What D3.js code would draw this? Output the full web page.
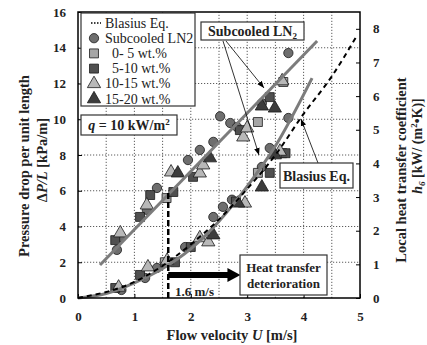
<!DOCTYPE html>
<html>
<head>
<meta charset="utf-8">
<script src="https://cdn.jsdelivr.net/npm/d3@7"></script>
<style>
  body { margin: 0; background: #fff; }
  text { font-family: "Liberation Serif", "Times New Roman", serif; }
</style>
</head>
<body>
<script>

// axis ticks
var xTicks = [0, 1, 2, 3, 4, 5];
var xGrid = [0.5, 1, 1.5, 2, 2.5, 3, 3.5, 4, 4.5];
var yLeftTicks = [0, 2, 4, 6, 8, 10, 12, 14, 16];
var yGrid = [2, 4, 6, 8, 10, 12, 14];
var yRightTicks = [0, 1, 2, 3, 4, 5, 6, 7, 8];

// legend
var seriesNames = ["Subcooled LN2", "0- 5 wt.%", "5-10 wt.%", "10-15 wt.%", "15-20 wt.%"];

// local heat transfer coefficient h [kW/(m2 K)] vs U [m/s]  (right axis)
var hLN2  = [[0.69,1.43],[0.77,1.81],[1.22,2.62],[1.40,3.27],[1.95,4.10],[2.16,4.40],[2.40,4.64],
             [2.52,5.40],[2.70,5.20],[2.82,5.08],[3.26,5.79],[3.73,7.28]];
var h0_5   = [[1.57,2.97],[3.19,5.23],[3.64,6.42]];
var h5_10  = [[0.66,1.72],[1.10,2.41],[1.28,3.06],[1.69,3.15],[2.04,3.60],[2.87,4.99],[3.40,5.97]];
var h10_15 = [[0.75,1.93],[1.22,2.76],[1.65,3.74],[2.16,3.71],[2.22,3.95],[2.93,4.78],[3.00,5.05],[3.62,6.45]];
var h15_20 = [[1.77,3.71],[2.34,4.16],[3.26,5.70],[3.49,5.64]];

// pressure drop dP/L [kPa/m] vs U [m/s]  (left axis)
var dpLN2  = [[0.77,0.45],[1.19,1.12],[1.40,1.68],[1.90,2.85],[2.40,4.53],[2.57,5.10],[2.73,5.50],
              [3.26,7.33],[3.40,8.39],[3.73,10.07]];
var dp0_5   = [[1.54,2.00],[3.19,7.00],[3.62,8.10]];
var dp5_10  = [[0.66,0.56],[1.10,1.29],[1.72,2.00],[2.00,2.85],[2.80,5.40],[3.40,7.00],[3.68,8.10]];
var dp10_15 = [[0.72,0.60],[1.24,1.73],[1.58,2.10],[2.16,3.36],[2.31,3.13],[2.96,5.30],[3.58,8.20]];
var dp15_20 = [[2.40,3.52],[2.84,5.30],[3.26,6.20],[3.49,8.00]];

// fitted curves and Blasius equation
var hFit = [[0.39,0.98],[4.24,7.64]];
var dpFit = [[0,0],[0.5,0.25],[1.0,0.85],[1.5,1.65],[2.0,2.75],[2.5,4.3],[3.0,6.25],[3.5,8.5],[4.15,12.3]];
var blasius = [[0,0],[1,0.9],[1.5,1.8],[2,3.0],[2.5,4.4],[3,6.1],[3.5,8.0],[4,10.3],[4.5,12.4],[4.95,14.7]];

var width = 427,
    height = 345;

var svg = d3.select("body").append("svg")
    .attr("width", width)
    .attr("height", height);

var x = d3.scaleLinear().domain([0, 5]).range([78, 360]);
var yL = d3.scaleLinear().domain([0, 16]).range([298, 12]);
var yR = d3.scaleLinear().domain([0, 8.5]).range([298, 12]);

var defs = svg.append("defs");
defs.append("marker")
    .attr("id", "thin")
    .attr("viewBox", "0 0 10 10")
    .attr("refX", 10).attr("refY", 5)
    .attr("markerWidth", 7).attr("markerHeight", 7)
    .attr("markerUnits", "userSpaceOnUse")
    .attr("orient", "auto")
    .append("path").attr("d", "M0,1L10,5L0,9Z").attr("fill", "#000");

// grid
svg.append("g").selectAll("line").data(xGrid).enter().append("line")
    .attr("x1", function(d) { return x(d); }).attr("x2", function(d) { return x(d); })
    .attr("y1", yL(0)).attr("y2", yL(16))
    .attr("stroke", "#333").attr("stroke-width", 0.8).attr("stroke-dasharray", "1.2,1.8");
svg.append("g").selectAll("line").data(yGrid).enter().append("line")
    .attr("x1", x(0)).attr("x2", x(5))
    .attr("y1", function(d) { return yL(d); }).attr("y2", function(d) { return yL(d); })
    .attr("stroke", "#333").attr("stroke-width", 0.8).attr("stroke-dasharray", "1.2,1.8");

function styleAxis(g) {
    g.select(".domain").remove();
    g.selectAll("line").attr("stroke", "#000").attr("stroke-width", 1);
    g.selectAll("text")
        .attr("font-family", "Liberation Serif, Times New Roman, serif")
        .attr("font-size", 13)
        .attr("font-weight", "bold")
        .attr("fill", "#222");
}

var fmt = d3.format("d");

svg.append("g").attr("transform", "translate(0," + yL(0) + ")")
    .call(d3.axisBottom(x).tickValues(xTicks).tickFormat(fmt).tickSizeInner(-4).tickSizeOuter(0).tickPadding(14))
    .call(styleAxis);
svg.append("g").attr("transform", "translate(" + x(0) + ",0)")
    .call(d3.axisLeft(yL).tickValues(yLeftTicks).tickFormat(fmt).tickSizeInner(-4).tickSizeOuter(0).tickPadding(12))
    .call(styleAxis);
svg.append("g").attr("transform", "translate(" + x(5) + ",0)")
    .call(d3.axisRight(yR).tickValues(yRightTicks).tickFormat(fmt).tickSizeInner(-4).tickSizeOuter(0).tickPadding(13))
    .call(styleAxis);

// data points
var shapes = [d3.symbolCircle, d3.symbolSquare, d3.symbolSquare, d3.symbolTriangle, d3.symbolTriangle];
var sizes = [68, 80, 80, 76, 76];
var fills = ["#6e6e6e", "#a6a6a6", "#505050", "#b8b8b8", "#3c3c3c"];
var hSets = [hLN2, h0_5, h5_10, h10_15, h15_20];
var dpSets = [dpLN2, dp0_5, dp5_10, dp10_15, dp15_20];

var series = seriesNames.map(function(name, i) {
    return { name: name, shape: shapes[i], size: sizes[i], fill: fills[i], h: hSets[i], dp: dpSets[i] };
});

var pts = svg.append("g");
series.forEach(function(s) {
    var sym = d3.symbol().type(s.shape).size(s.size);
    pts.selectAll(null).data(s.h).enter().append("path")
        .attr("d", sym)
        .attr("transform", function(d) { return "translate(" + x(d[0]) + "," + yR(d[1]) + ")"; })
        .attr("fill", s.fill).attr("stroke", "#1a1a1a").attr("stroke-width", 0.8);
    pts.selectAll(null).data(s.dp).enter().append("path")
        .attr("d", sym)
        .attr("transform", function(d) { return "translate(" + x(d[0]) + "," + yL(d[1]) + ")"; })
        .attr("fill", s.fill).attr("stroke", "#1a1a1a").attr("stroke-width", 0.8);
});

// fit lines
svg.append("path").datum(hFit)
    .attr("d", d3.line().x(function(d) { return x(d[0]); }).y(function(d) { return yR(d[1]); }))
    .attr("fill", "none").attr("stroke", "#7c7c7c").attr("stroke-width", 3);
svg.append("path").datum(dpFit)
    .attr("d", d3.line().curve(d3.curveMonotoneX).x(function(d) { return x(d[0]); }).y(function(d) { return yL(d[1]); }))
    .attr("fill", "none").attr("stroke", "#7c7c7c").attr("stroke-width", 3);
svg.append("path").datum(blasius)
    .attr("d", d3.line().curve(d3.curveMonotoneX).x(function(d) { return x(d[0]); }).y(function(d) { return yL(d[1]); }))
    .attr("fill", "none").attr("stroke", "#000").attr("stroke-width", 2).attr("stroke-dasharray", "5,4");

// frame
svg.append("rect")
    .attr("x", x(0)).attr("y", yL(16))
    .attr("width", x(5) - x(0)).attr("height", yL(0) - yL(16))
    .attr("fill", "none").attr("stroke", "#000").attr("stroke-width", 1.5);

// 1.6 m/s marker and deterioration arrow
svg.append("line")
    .attr("x1", x(1.6)).attr("x2", x(1.6)).attr("y1", yL(0)).attr("y2", yL(6))
    .attr("stroke", "#000").attr("stroke-width", 2.5).attr("stroke-dasharray", "6,3");
svg.append("line")
    .attr("x1", x(1.6)).attr("x2", x(2.67)).attr("y1", yL(1.29)).attr("y2", yL(1.29))
    .attr("stroke", "#000").attr("stroke-width", 6);
svg.append("path")
    .attr("d", "M" + x(2.65) + "," + (yL(1.29) - 7) + "L" + x(2.88) + "," + yL(1.29) + "L" + x(2.65) + "," + (yL(1.29) + 7) + "Z")
    .attr("fill", "#000");
svg.append("text")
    .attr("x", 175).attr("y", 296)
    .attr("font-size", 13).attr("font-weight", "bold").attr("fill", "#222")
    .text("1.6 m/s");

function box(x0, y0, w, h) {
    svg.append("rect").attr("x", x0).attr("y", y0).attr("width", w).attr("height", h)
        .attr("fill", "#fff").attr("stroke", "#333").attr("stroke-width", 1.2);
}

box(240, 255, 87, 40);
svg.append("text").attr("x", 283.5).attr("y", 272).attr("text-anchor", "middle")
    .attr("font-size", 13).attr("font-weight", "bold").attr("fill", "#222").text("Heat transfer");
svg.append("text").attr("x", 283.5).attr("y", 288).attr("text-anchor", "middle")
    .attr("font-size", 13).attr("font-weight", "bold").attr("fill", "#222").text("deterioration");

// Blasius label
svg.append("line").attr("x1", 318).attr("y1", 163).attr("x2", 301).attr("y2", 119)
    .attr("stroke", "#000").attr("stroke-width", 0.8).attr("marker-end", "url(#thin)");
box(280, 163, 73, 25);
svg.append("text").attr("x", 316.5).attr("y", 180.5).attr("text-anchor", "middle")
    .attr("font-size", 14).attr("font-weight", "bold").attr("fill", "#222").text("Blasius Eq.");

// Subcooled LN2 label
svg.append("line").attr("x1", 226).attr("y1", 41).attr("x2", 264).attr("y2", 88)
    .attr("stroke", "#000").attr("stroke-width", 0.8).attr("marker-end", "url(#thin)");
svg.append("line").attr("x1", 223).attr("y1", 41).attr("x2", 259).attr("y2", 155)
    .attr("stroke", "#000").attr("stroke-width", 0.8).attr("marker-end", "url(#thin)");
box(201, 22, 103, 18);
var ln2 = svg.append("text").attr("x", 252.5).attr("y", 36).attr("text-anchor", "middle")
    .attr("font-size", 14).attr("font-weight", "bold").attr("fill", "#222");
ln2.append("tspan").text("Subcooled LN");
ln2.append("tspan").attr("font-size", 9).attr("dy", 3).text("2");

// q box
box(81, 115, 96, 20);
var q = svg.append("text").attr("x", 129).attr("y", 130).attr("text-anchor", "middle")
    .attr("font-size", 14).attr("font-weight", "bold").attr("fill", "#222");
q.append("tspan").attr("font-style", "italic").text("q");
q.append("tspan").text(" = 10 kW/m");
q.append("tspan").attr("font-size", 9).attr("dy", -5).text("2");

// legend
box(81, 13, 114, 93);
var legY = d3.scaleLinear().domain([0, 5]).range([23, 99]);
svg.append("line").attr("x1", 91).attr("x2", 101).attr("y1", legY(0)).attr("y2", legY(0))
    .attr("stroke", "#000").attr("stroke-width", 1.5).attr("stroke-dasharray", "1.5,1.5");
svg.append("text").attr("x", 105).attr("y", legY(0) + 4.5)
    .attr("font-size", 14).attr("fill", "#222").text("Blasius Eq.");
var textX = [105, 112, 112, 105, 105];
series.forEach(function(s, i) {
    svg.append("path")
        .attr("d", d3.symbol().type(s.shape).size(s.size))
        .attr("transform", "translate(94," + legY(i + 1) + ")")
        .attr("fill", s.fill).attr("stroke", "#1a1a1a").attr("stroke-width", 0.8);
    svg.append("text").attr("x", textX[i]).attr("y", legY(i + 1) + 4.5)
        .attr("font-size", 14).attr("fill", "#222").text(s.name);
});

// axis titles
var xt = svg.append("text").attr("x", 232).attr("y", 340).attr("text-anchor", "middle")
    .attr("font-size", 14.5).attr("font-weight", "bold").attr("fill", "#222");
xt.append("tspan").text("Flow velocity ");
xt.append("tspan").attr("font-style", "italic").text("U");
xt.append("tspan").text(" [m/s]");

svg.append("text").attr("transform", "translate(24,166) rotate(-90)")
    .attr("text-anchor", "middle").attr("dy", "0.35em")
    .attr("font-size", 14.5).attr("font-weight", "bold").attr("fill", "#222")
    .text("Pressure drop per unit length");
var yt2 = svg.append("text").attr("transform", "translate(42,160) rotate(-90)")
    .attr("text-anchor", "middle").attr("dy", "0.35em")
    .attr("font-size", 14.5).attr("font-weight", "bold").attr("fill", "#222");
yt2.append("tspan").text("\u0394");
yt2.append("tspan").attr("font-style", "italic").text("P/L");
yt2.append("tspan").text(" [kPa/m]");

svg.append("text").attr("transform", "translate(401,170) rotate(-90)")
    .attr("text-anchor", "middle").attr("dy", "0.35em")
    .attr("font-size", 14.5).attr("font-weight", "bold").attr("fill", "#222")
    .text("Local heat transfer coefficient");
var rt2 = svg.append("text").attr("transform", "translate(417,146) rotate(-90)")
    .attr("text-anchor", "middle").attr("dy", "0.35em")
    .attr("font-size", 14).attr("font-weight", "bold").attr("fill", "#222");
rt2.append("tspan").attr("font-style", "italic").text("h");
rt2.append("tspan").attr("font-style", "italic").attr("font-size", 9).attr("dy", 3).text("6");
rt2.append("tspan").attr("dy", -3).text(" [kW/ (m");
rt2.append("tspan").attr("font-size", 9).attr("dy", -5).text("2");
rt2.append("tspan").attr("dy", 5).text("\u2022K)]");

</script>
</body>
</html>
